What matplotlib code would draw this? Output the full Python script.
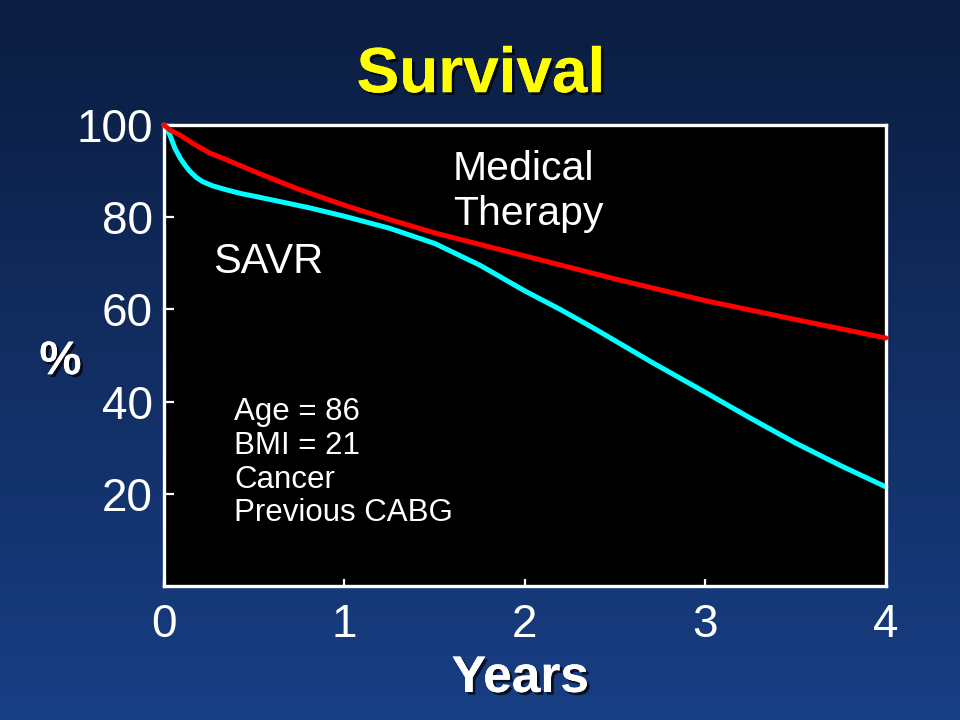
import numpy as np
import matplotlib.pyplot as plt
import matplotlib.patheffects as pe

plt.rcParams['font.family'] = ['Liberation Sans', 'DejaVu Sans']

# survival curves
years_med = [0, 0.033, 0.09, 0.16, 0.255, 0.35, 0.52, 0.75, 1.0, 1.25, 1.5, 2.0, 2.5, 3.0, 3.5, 4.0]
surv_med = [100, 98.9, 97.8, 96.0, 93.9, 92.4, 89.6, 86.0, 82.6, 79.5, 76.6, 71.6, 66.6, 61.9, 57.8, 53.8]

years_savr = [0, 0.015, 0.033, 0.06, 0.09, 0.12, 0.145, 0.18, 0.215, 0.27, 0.35, 0.43, 0.52, 0.81,
              1.0, 1.25, 1.5, 1.75, 2.0, 2.2, 2.4, 2.7, 3.0, 3.25, 3.5, 3.75, 4.0]
surv_savr = [100, 99.2, 97.8, 95.0, 92.8, 91.1, 89.9, 88.6, 87.7, 86.8, 85.9, 85.1, 84.4, 82.0,
             80.2, 77.6, 74.3, 69.6, 64.0, 59.9, 55.5, 48.6, 42.0, 36.4, 31.0, 26.1, 21.5]

xticks = [0, 1, 2, 3, 4]
yticks = [20, 40, 60, 80, 100]
risk_text = "Age = 86\nBMI = 21\nCancer\nPrevious CABG"

fig = plt.figure(figsize=(9.6, 7.2), dpi=100)

# blue gradient background
bg = fig.add_axes([0, 0, 1, 1], zorder=-10)
top = np.array([11, 29, 64]) / 255
bot = np.array([24, 62, 132]) / 255
t = np.linspace(0, 1, 256)[:, None]
grad = top[None, :] * (1 - t) + bot[None, :] * t
bg.imshow(grad[:, None, :], aspect='auto', extent=[0, 1, 0, 1])
bg.axis('off')

ax = fig.add_axes([0.1708, 0.1861, 0.752, 0.6403])
ax.set_facecolor('black')
ax.plot(years_med, surv_med, color='#ff0000', lw=3.6, clip_on=False, zorder=3,
        solid_capstyle='round', solid_joinstyle='round')
ax.plot(years_savr, surv_savr, color='#00ffff', lw=3.6, clip_on=False, zorder=2,
        solid_capstyle='round', solid_joinstyle='round')

ax.set_xlim(0, 4)
ax.set_ylim(0, 100)
ax.set_xticks(xticks)
ax.set_yticks(yticks)
for s in ax.spines.values():
    s.set_color('white')
    s.set_linewidth(2.4)
ax.tick_params(axis='both', direction='in', colors='white', width=1.6,
               labelsize=33)
ax.tick_params(axis='y', length=7, pad=8)
ax.tick_params(axis='x', length=5, pad=12)

shadow = [pe.withSimplePatchShadow(offset=(2, -2), shadow_rgbFace='black', alpha=0.7),
          pe.Normal()]

fig.text(0.501, 0.872, "Survival", color='#ffff00', fontsize=46, fontweight='bold',
         ha='center', va='baseline', path_effects=shadow)
fig.text(0.542, 0.039, "Years", color='white', fontsize=37, fontweight='bold',
         ha='center', va='baseline', path_effects=shadow)
fig.text(0.063, 0.497, "%", color='white', fontsize=34, fontweight='bold',
         ha='center', va='center', path_effects=shadow)

ax.text(1.60, 78.3, "Medical\nTherapy", color='white', fontsize=29.5,
        ha='left', va='baseline', linespacing=1.22)
ax.text(0.27, 67.8, "SAVR", color='white', fontsize=30, ha='left', va='baseline')
ax.text(0.39, 14.0, risk_text, color='white', fontsize=22.5, ha='left',
        va='baseline', linespacing=1.17)

fig.savefig('out.png', dpi=100)
